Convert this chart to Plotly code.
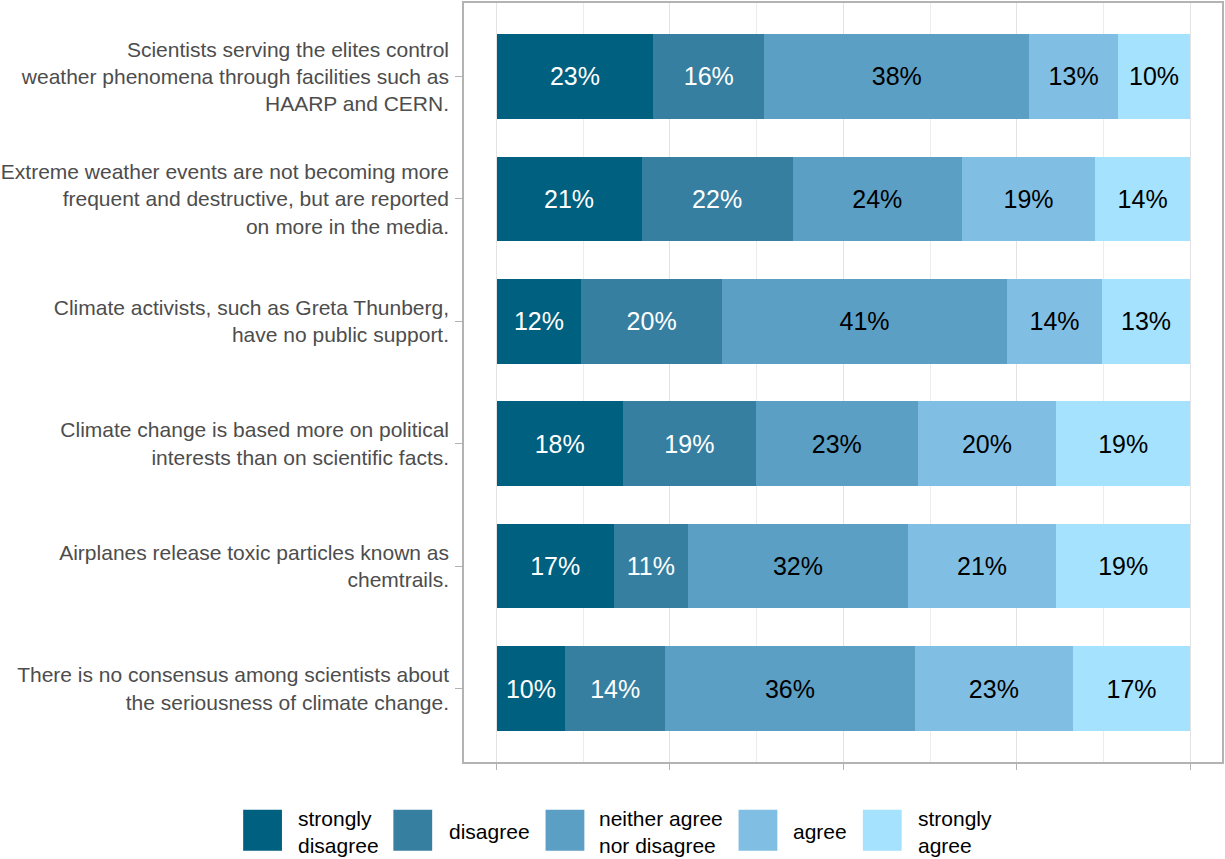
import plotly.graph_objects as go

statements = [
    "Scientists serving the elites control<br>weather phenomena through facilities such as<br>HAARP and CERN.",
    "Extreme weather events are not becoming more<br>frequent and destructive, but are reported<br>on more in the media.",
    "Climate activists, such as Greta Thunberg,<br>have no public support.",
    "Climate change is based more on political<br>interests than on scientific facts.",
    "Airplanes release toxic particles known as<br>chemtrails.",
    "There is no consensus among scientists about<br>the seriousness of climate change.",
]
responses = ["strongly<br>disagree", "disagree", "neither agree<br>nor disagree", "agree", "strongly<br>agree"]

strongly_disagree = [22.6, 20.9, 12.2, 18.2, 16.9, 9.9]
disagree = [16.0, 21.8, 20.3, 19.2, 10.7, 14.4]
neither = [38.2, 24.4, 41.1, 23.3, 31.7, 36.0]
agree = [12.8, 19.2, 13.7, 20.0, 21.4, 22.8]
strongly_agree = [10.4, 13.7, 12.7, 19.3, 19.3, 16.9]

series = [strongly_disagree, disagree, neither, agree, strongly_agree]
colors = ["#006080", "#377FA0", "#5B9FC4", "#80BFE3", "#A4E2FD"]
text_colors = ["white", "white", "black", "black", "black"]

FONT = "Liberation Sans, Arial"

fig = go.Figure()
for vals, name, col, tcol in zip(series, responses, colors, text_colors):
    fig.add_trace(go.Bar(
        y=statements, x=[v / 100 for v in vals], orientation="h", name=name,
        marker=dict(color=col, line=dict(width=0)),
        text=[f"{round(v)}%" for v in vals], textposition="inside",
        insidetextanchor="middle", textangle=0, constraintext="none",
        textfont=dict(color=tcol, size=25, family=FONT),
        showlegend=False,
    ))

W, H = 1225, 859
ML, MR, MT, MB = 461, 2, 1, 97
pw, ph = W - ML - MR, H - MT - MB

def px_x(x):
    return (x - ML) / pw

def px_y(y):
    return (H - MB - y) / ph

shapes = []
annotations = []
key_x = [239, 390, 543, 737, 862]
text_x = [294, 446, 597, 792, 917]
for kx, tx, col, name in zip(key_x, text_x, colors, responses):
    shapes.append(dict(type="rect", xref="paper", yref="paper",
                       x0=px_x(kx), x1=px_x(kx + 39), y0=px_y(851), y1=px_y(810),
                       fillcolor=col, line=dict(width=0)))
    annotations.append(dict(xref="paper", yref="paper", x=px_x(tx), y=px_y(832),
                            text=name, showarrow=False, xanchor="left", yanchor="middle",
                            align="left", xshift=-2,
                            font=dict(size=21, color="black", family=FONT)))

fig.update_layout(
    width=W, height=H, barmode="stack", bargap=0.31,
    margin=dict(l=ML, r=MR, t=MT, b=MB),
    plot_bgcolor="white", paper_bgcolor="white",
    font=dict(family=FONT),
    shapes=shapes, annotations=annotations,
    xaxis=dict(range=[-0.047, 1.046], tick0=0, dtick=0.25, showticklabels=False,
               ticks="outside", ticklen=6, tickcolor="#b3b3b3",
               showgrid=True, gridcolor="#e3e3e3", gridwidth=1,
               minor=dict(tick0=0, dtick=0.125, showgrid=True, gridcolor="#ececec", gridwidth=1),
               showline=True, linecolor="#b3b3b3", linewidth=1.5, mirror=True,
               zeroline=False, fixedrange=True),
    yaxis=dict(range=[5.6, -0.6], ticks="outside", ticklen=7, tickcolor="#b3b3b3",
               tickfont=dict(size=21, color="#4d4d4d"), showgrid=False,
               showline=True, linecolor="#b3b3b3", linewidth=1.5, mirror=True,
               zeroline=False, ticklabelstandoff=2),
)

fig.write_html("out.html", config={"displayModeBar": False},
               post_script="document.body.style.margin='0';document.body.style.overflow='hidden';")
